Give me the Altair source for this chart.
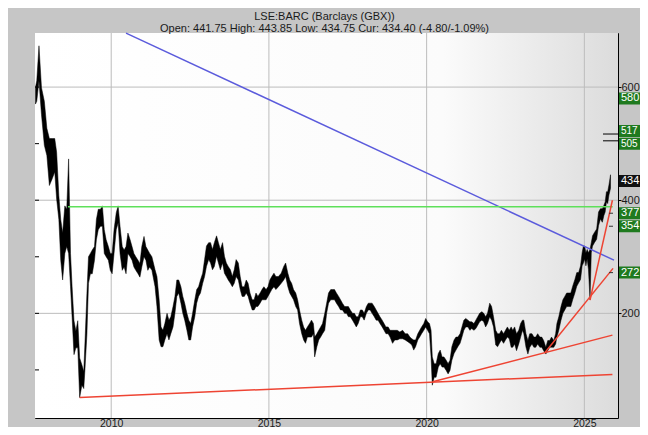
import altair as alt
import pandas as pd

# ---- price band (decimal year, high, low) ----
DATES = [
    2007.60, 2007.64, 2007.71, 2007.79, 2007.88, 2007.96, 2008.04, 2008.13, 2008.21, 2008.27,
    2008.34, 2008.40, 2008.46, 2008.53, 2008.59, 2008.65, 2008.71, 2008.76, 2008.82, 2008.88,
    2008.94, 2009.00, 2009.07, 2009.13, 2009.17, 2009.23, 2009.28, 2009.34, 2009.40, 2009.47,
    2009.53, 2009.59, 2009.66, 2009.72, 2009.78, 2009.84, 2009.91, 2009.97, 2010.03, 2010.09,
    2010.16, 2010.22, 2010.28, 2010.35, 2010.41, 2010.47, 2010.53, 2010.60, 2010.66, 2010.72,
    2010.78, 2010.85, 2010.91, 2010.97, 2011.04, 2011.10, 2011.16, 2011.22, 2011.29,
    2011.39, 2011.45, 2011.52, 2011.58, 2011.64, 2011.70, 2011.77, 2011.83, 2011.89, 2011.96,
    2012.02, 2012.08, 2012.14, 2012.21, 2012.27, 2012.33, 2012.40, 2012.46, 2012.52, 2012.58,
    2012.65, 2012.71, 2012.77, 2012.83, 2012.90, 2012.96, 2013.02, 2013.09, 2013.15, 2013.21,
    2013.27, 2013.34, 2013.40, 2013.46, 2013.53, 2013.59, 2013.65, 2013.71, 2013.78, 2013.84,
    2013.90, 2013.96, 2014.03, 2014.09, 2014.15, 2014.22, 2014.28, 2014.34, 2014.40, 2014.47,
    2014.53, 2014.59, 2014.65, 2014.72, 2014.78, 2014.84, 2014.91, 2014.97, 2015.03, 2015.09,
    2015.16, 2015.22, 2015.30, 2015.39, 2015.47, 2015.53, 2015.60, 2015.66, 2015.72, 2015.78,
    2015.85, 2015.91, 2015.97, 2016.04, 2016.10, 2016.16, 2016.22, 2016.29, 2016.35, 2016.41,
    2016.45, 2016.52, 2016.58, 2016.64, 2016.70, 2016.77, 2016.83, 2016.89, 2016.96, 2017.02,
    2017.08, 2017.14, 2017.21, 2017.27, 2017.33, 2017.40, 2017.46, 2017.52, 2017.58, 2017.65,
    2017.71, 2017.77, 2017.83, 2017.90, 2017.96, 2018.02, 2018.09, 2018.15, 2018.21, 2018.27,
    2018.34, 2018.40, 2018.46, 2018.52, 2018.59, 2018.65, 2018.71, 2018.78, 2018.84,
    2018.92, 2018.99, 2019.07, 2019.15, 2019.24, 2019.32, 2019.40, 2019.47, 2019.53, 2019.59,
    2019.65, 2019.72, 2019.78, 2019.84, 2019.91, 2019.97, 2020.03, 2020.09, 2020.14, 2020.18,
    2020.24, 2020.30, 2020.37, 2020.43, 2020.49, 2020.55, 2020.62, 2020.68, 2020.74, 2020.80,
    2020.87, 2020.93, 2020.99, 2021.06, 2021.12, 2021.18, 2021.24, 2021.31, 2021.37, 2021.43,
    2021.50, 2021.56, 2021.62, 2021.68, 2021.75, 2021.81, 2021.87, 2021.93, 2022.00, 2022.06,
    2022.12, 2022.19, 2022.25, 2022.31, 2022.37, 2022.44, 2022.50, 2022.56, 2022.62,
    2022.68, 2022.73, 2022.79, 2022.85, 2022.92, 2022.98, 2023.04, 2023.08, 2023.15, 2023.21,
    2023.27, 2023.34, 2023.40, 2023.46, 2023.52, 2023.59, 2023.65, 2023.71, 2023.78, 2023.84,
    2023.90, 2023.96, 2024.03, 2024.09, 2024.13, 2024.19, 2024.26, 2024.32, 2024.38, 2024.44,
    2024.51, 2024.57, 2024.63, 2024.70, 2024.76, 2024.82, 2024.88, 2024.93, 2024.97, 2025.01,
    2025.05, 2025.09, 2025.13, 2025.18, 2025.22, 2025.26, 2025.32, 2025.39, 2025.45, 2025.51,
    2025.57, 2025.62, 2025.66, 2025.70, 2025.74, 2025.78, 2025.83,
]
HIGHS = [
    600, 611, 673, 599, 575, 527, 509, 509, 509, 485,
    408, 366, 342, 390, 384, 473, 306, 247, 187, 169,
    187, 121, 109, 97, 151, 235, 300, 306, 312, 318,
    366, 384, 384, 390, 348, 330, 318, 306, 306, 348,
    378, 390, 354, 318, 312, 318, 342, 330, 318, 306,
    300, 294, 288, 318, 336, 318, 312, 306, 300,
    277, 265, 224, 176, 170, 182, 200, 188, 194, 212,
    230, 259, 259, 247, 230, 218, 200, 188, 182, 200,
    224, 242, 247, 259, 271, 295, 319, 325, 325, 313,
    325, 337, 325, 313, 325, 301, 289, 283, 277, 265,
    277, 295, 289, 265, 247, 247, 259, 253, 236, 224,
    224, 236, 230, 236, 242, 247, 242, 247, 259, 265,
    271, 265, 265, 271, 283, 289, 271, 259, 253, 242,
    236, 224, 206, 188, 176, 170, 176, 182, 188, 182,
    158, 164, 170, 176, 182, 200, 218, 236, 242, 242,
    242, 236, 230, 224, 218, 212, 212, 212, 206, 200,
    200, 194, 194, 206, 206, 200, 212, 218, 218, 218,
    212, 206, 200, 194, 188, 182, 176, 176, 170,
    170, 170, 170, 167, 170, 164, 164, 158, 155, 153,
    153, 164, 170, 176, 182, 191, 185, 182, 170, 123,
    111, 111, 129, 135, 123, 123, 117, 111, 117, 141,
    153, 158, 158, 164, 176, 188, 191, 188, 185, 185,
    182, 188, 194, 200, 203, 200, 194, 200, 218, 212,
    194, 170, 164, 164, 170, 164, 170, 176, 170,
    176, 170, 176, 164, 170, 182, 188, 188, 164, 152,
    164, 164, 158, 158, 164, 158, 158, 152, 140, 152,
    152, 158, 152, 164, 182, 194, 212, 224, 230, 236,
    236, 236, 248, 260, 272, 272, 284, 307, 319, 319,
    307, 313, 307, 313, 325, 337, 343, 349, 379, 385,
    385, 391, 397, 415, 415, 427, 445,
]
LOWS = [
    570, 575, 611, 551, 497, 479, 426, 438, 450, 402,
    366, 294, 259, 306, 318, 306, 247, 193, 127, 139,
    139, 51, 73, 67, 103, 163, 253, 270, 270, 294,
    330, 348, 354, 354, 306, 300, 294, 276, 270, 306,
    348, 360, 306, 276, 282, 270, 306, 300, 294, 282,
    276, 270, 264, 282, 300, 294, 276, 282, 276,
    247, 212, 153, 141, 141, 153, 164, 153, 164, 176,
    200, 230, 236, 218, 200, 188, 170, 153, 153, 176,
    194, 218, 230, 236, 253, 265, 283, 295, 289, 277,
    283, 301, 289, 277, 289, 271, 265, 259, 253, 247,
    253, 265, 259, 242, 230, 230, 236, 230, 218, 206,
    206, 212, 212, 218, 224, 224, 224, 230, 236, 242,
    247, 242, 247, 253, 259, 265, 247, 236, 230, 224,
    212, 206, 182, 164, 153, 147, 158, 158, 158, 164,
    123, 141, 153, 158, 164, 170, 200, 218, 224, 224,
    224, 218, 212, 206, 206, 200, 200, 194, 194, 188,
    182, 176, 182, 194, 194, 188, 200, 206, 206, 200,
    194, 188, 188, 182, 176, 170, 164, 164, 158,
    147, 153, 153, 155, 155, 153, 150, 147, 144, 135,
    141, 153, 158, 164, 170, 176, 170, 164, 123, 73,
    87, 87, 105, 111, 105, 105, 99, 93, 99, 117,
    129, 135, 141, 147, 158, 170, 176, 176, 170, 173,
    170, 173, 179, 185, 188, 185, 176, 182, 194, 188,
    176, 144, 141, 147, 153, 147, 153, 158, 155,
    140, 140, 146, 134, 146, 158, 170, 164, 140, 128,
    140, 146, 140, 140, 146, 140, 140, 134, 128, 134,
    140, 140, 140, 146, 158, 170, 188, 200, 206, 212,
    212, 212, 224, 236, 248, 254, 260, 284, 289, 296,
    284, 296, 278, 224, 307, 319, 325, 331, 355, 367,
    361, 373, 379, 397, 394, 409, 421,
]

# ---- trend lines (start/end as decimal year and price) ----
LINE_T0 = [2010.47, 2008.63, 2009.00, 2020.19, 2023.74, 2025.18]
LINE_V0 = [695.5, 388.4, 51.4, 79.0, 130.0, 223.4]
LINE_T1 = [2025.94, 2025.90, 2025.89, 2025.89, 2025.91, 2025.89]
LINE_V1 = [294.0, 388.4, 92.0, 161.5, 279.5, 400.0]
LINE_COLORS = ["#5b5bdc", "#5ee05a", "#ee4433", "#ee4433", "#ee4433", "#ee4433"]

# ---- level boxes on the right ----
LEVELS = [580, 434, 377, 354, 272]
LEVEL_LABELS = ["580", "434", "377", "354", "272"]
LEVEL_COLORS = ["#1f7a1f", "#111111", "#1f7a1f", "#1f7a1f", "#1f7a1f"]
# the two close levels, nudged apart so that their labels stay readable
UPPER_LEVEL, UPPER_LABEL = [517], ["517"]
LOWER_LEVEL, LOWER_LABEL = [505], ["505"]
MARK_LEVELS = [517, 505]
SMALL_MARK_LEVELS = [377, 354, 272]
LEFT_TICKS = [100, 200, 300, 400, 500, 600]

X_TICKS = [2010, 2015, 2020, 2025]
Y_TICKS = [200, 400, 600]

W, H = 583, 385
x_scale = alt.Scale(domain=[2007.584, 2026.067], nice=False, zero=False)
y_scale = alt.Scale(domain=[15, 695.6], nice=False, zero=False)

x_axis = alt.Axis(values=X_TICKS, format="d", grid=False, domain=False, ticks=False,
                  labelPadding=0, labelFontSize=10.5, labelFont="Liberation Sans",
                  labelColor="#1a1a1a", title=None)
y_axis = alt.Axis(values=Y_TICKS, orient="right", grid=False, domain=False, ticks=True,
                  tickSize=3, tickColor="#000000", format="d", labelPadding=0,
                  labelFontSize=11, labelFont="Liberation Sans", labelColor="#1a1a1a", title=None)

price = pd.DataFrame({"t": DATES, "hi": HIGHS, "lo": LOWS})
lines = pd.DataFrame({"t": LINE_T0, "v": LINE_V0, "t1": LINE_T1, "v1": LINE_V1, "c": LINE_COLORS})
levels = pd.DataFrame({"v": LEVELS, "lbl": LEVEL_LABELS, "c": LEVEL_COLORS})
upper = pd.DataFrame({"v": UPPER_LEVEL, "lbl": UPPER_LABEL, "c": ["#1f7a1f"]})
lower = pd.DataFrame({"v": LOWER_LEVEL, "lbl": LOWER_LABEL, "c": ["#1f7a1f"]})

X = lambda f: alt.X(f, scale=x_scale, axis=x_axis)
Y = lambda f: alt.Y(f, scale=y_scale, axis=y_axis)

bg = alt.Chart(pd.DataFrame({"k": [0]})).mark_rect(
    color=alt.Gradient(
        gradient="linear",
        stops=[alt.GradientStop(color="#ffffff", offset=0),
               alt.GradientStop(color="#fbfbfb", offset=0.7),
               alt.GradientStop(color="#dcdcdc", offset=1)],
        x1=0, x2=1, y1=0, y2=0,
    )
).encode(x=alt.value(0), x2=alt.value(W), y=alt.value(0), y2=alt.value(H))

vgrid = alt.Chart(pd.DataFrame({"t": X_TICKS})).mark_rule(color="#bcbcbc", strokeWidth=1).encode(
    x=X("t:Q"), y=alt.value(0), y2=alt.value(H))
hgrid = alt.Chart(pd.DataFrame({"v": Y_TICKS})).mark_rule(color="#bcbcbc", strokeWidth=1).encode(
    y=Y("v:Q"), x=alt.value(0), x2=alt.value(W))

band = alt.Chart(price).mark_area(color="#000000", stroke="#000000", strokeWidth=0.5, opacity=1).encode(
    x=X("t:Q"), y=Y("hi:Q"), y2="lo:Q")

trend = alt.Chart(lines).mark_rule(strokeWidth=1.5).encode(
    x=X("t:Q"), x2="t1:Q", y=Y("v:Q"), y2="v1:Q", color=alt.Color("c:N", scale=None))

left_ticks = alt.Chart(pd.DataFrame({"v": LEFT_TICKS})).mark_rule(color="#000000", strokeWidth=1).encode(
    x=alt.value(0), x2=alt.value(4), y=Y("v:Q"))
mark_lines = alt.Chart(pd.DataFrame({"v": MARK_LEVELS})).mark_rule(color="#000000", strokeWidth=1).encode(
    x=alt.value(W - 15), x2=alt.value(W), y=Y("v:Q"))
small_marks = alt.Chart(pd.DataFrame({"v": SMALL_MARK_LEVELS})).mark_rule(color="#333333", strokeWidth=1).encode(
    x=alt.value(W - 9), x2=alt.value(W - 5), y=Y("v:Q"))

BOX = "M0,-0.25L2,-0.25L2,0.25L0,0.25Z"


def level_layers(df, shift=0, font=11):
    boxes = alt.Chart(df).mark_point(shape=BOX, size=2304, filled=True, opacity=1, strokeWidth=0).encode(
        x=alt.value(W + 1), y=Y("v:Q"), yOffset=alt.value(shift), color=alt.Color("c:N", scale=None))
    text = alt.Chart(df).mark_text(align="left", baseline="middle", fontSize=font, dy=shift,
                                   font="Liberation Sans", color="#ffffff").encode(
        x=alt.value(W + 3), y=Y("v:Q"), text="lbl:N")
    return [boxes, text]


layers = [bg, vgrid, hgrid, band, trend, left_ticks, mark_lines, small_marks]
layers += level_layers(upper, shift=-3, font=10) + level_layers(lower, shift=3, font=10)
layers += level_layers(levels)

chart = alt.layer(*layers).properties(
    width=W, height=H,
    autosize=alt.AutoSizeParams(type="none"),
    padding={"left": 27, "top": 25, "right": 22, "bottom": 9},
    background="#c6c6c6",
    title=alt.TitleParams(
        text=["LSE:BARC (Barclays (GBX))",
              "Open: 441.75 High: 443.85 Low: 434.75 Cur: 434.40 (-4.80/-1.09%)"],
        fontSize=11, font="Liberation Sans", fontWeight="normal", color="#1a1a1a",
        anchor="middle", offset=-2, lineHeight=12, dx=-2,
    ),
).configure_view(stroke="#000000", strokeWidth=1)

chart.save("out.html", embed_options={"renderer": "svg", "actions": False})
